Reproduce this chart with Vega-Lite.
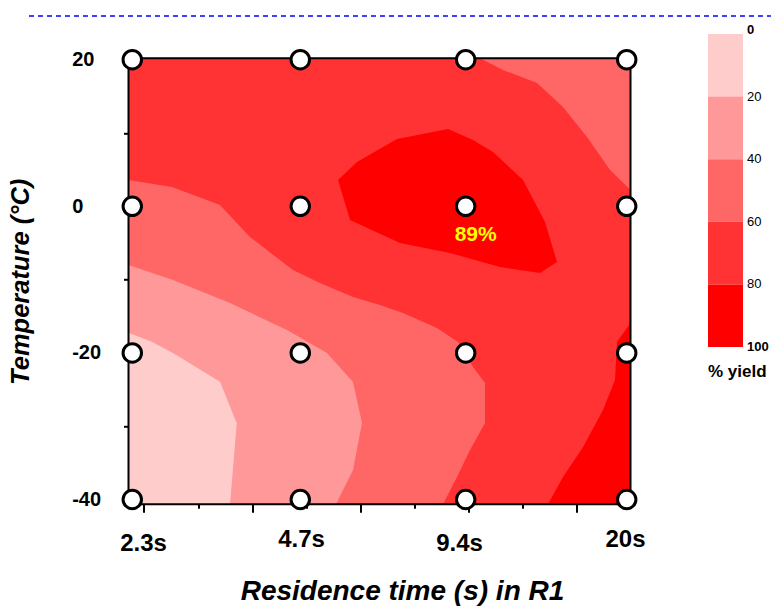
{
  "$schema": "https://vega.github.io/schema/vega-lite/v6.json",
  "width": 502,
  "height": 446,
  "autosize": {"type": "none"},
  "padding": {"left": 128.5, "top": 58.3, "right": 140.5, "bottom": 101.7},
  "background": "white",
  "config": {
    "view": {"fill": "#ff3333", "stroke": null},
    "font": "Liberation Sans"
  },
  "datasets": {
    "contours": [
      {"region": "C2a", "level": 50, "i": 1, "x": -0.287, "T": 3.59},
      {"region": "C2a", "level": 50, "i": 2, "x": 0.519, "T": 2.63},
      {"region": "C2a", "level": 50, "i": 3, "x": 1.407, "T": 0.18},
      {"region": "C2a", "level": 50, "i": 4, "x": 1.963, "T": -4.19},
      {"region": "C2a", "level": 50, "i": 5, "x": 2.759, "T": -8.69},
      {"region": "C2a", "level": 50, "i": 6, "x": 3.259, "T": -10.46},
      {"region": "C2a", "level": 50, "i": 7, "x": 3.870, "T": -12.37},
      {"region": "C2a", "level": 50, "i": 8, "x": 4.370, "T": -13.47},
      {"region": "C2a", "level": 50, "i": 9, "x": 4.796, "T": -14.56},
      {"region": "C2a", "level": 50, "i": 10, "x": 5.426, "T": -16.60},
      {"region": "C2a", "level": 50, "i": 11, "x": 5.815, "T": -18.51},
      {"region": "C2a", "level": 50, "i": 12, "x": 6.093, "T": -21.92},
      {"region": "C2a", "level": 50, "i": 13, "x": 6.315, "T": -24.11},
      {"region": "C2a", "level": 50, "i": 14, "x": 6.315, "T": -29.56},
      {"region": "C2a", "level": 50, "i": 15, "x": 6.037, "T": -33.25},
      {"region": "C2a", "level": 50, "i": 16, "x": 5.796, "T": -36.93},
      {"region": "C2a", "level": 50, "i": 17, "x": 5.537, "T": -40.65},
      {"region": "C2a", "level": 50, "i": 18, "x": -0.287, "T": -40.65},
      {"region": "C2b", "level": 50, "i": 1, "x": 6.222, "T": 20.19},
      {"region": "C2b", "level": 50, "i": 2, "x": 6.648, "T": 18.60},
      {"region": "C2b", "level": 50, "i": 3, "x": 7.278, "T": 16.82},
      {"region": "C2b", "level": 50, "i": 4, "x": 7.759, "T": 13.55},
      {"region": "C2b", "level": 50, "i": 5, "x": 8.204, "T": 9.45},
      {"region": "C2b", "level": 50, "i": 6, "x": 8.630, "T": 4.95},
      {"region": "C2b", "level": 50, "i": 7, "x": 9.009, "T": 2.22},
      {"region": "C2b", "level": 50, "i": 8, "x": 9.009, "T": 20.19},
      {"region": "C4a", "level": 90, "i": 1, "x": 3.593, "T": 3.59},
      {"region": "C4a", "level": 90, "i": 2, "x": 3.944, "T": 6.04},
      {"region": "C4a", "level": 90, "i": 3, "x": 4.685, "T": 9.18},
      {"region": "C4a", "level": 90, "i": 4, "x": 5.630, "T": 10.55},
      {"region": "C4a", "level": 90, "i": 5, "x": 6.093, "T": 9.05},
      {"region": "C4a", "level": 90, "i": 6, "x": 6.463, "T": 7.41},
      {"region": "C4a", "level": 90, "i": 7, "x": 7.019, "T": 3.59},
      {"region": "C4a", "level": 90, "i": 8, "x": 7.426, "T": -2.14},
      {"region": "C4a", "level": 90, "i": 9, "x": 7.648, "T": -7.60},
      {"region": "C4a", "level": 90, "i": 10, "x": 7.333, "T": -9.10},
      {"region": "C4a", "level": 90, "i": 11, "x": 6.593, "T": -8.28},
      {"region": "C4a", "level": 90, "i": 12, "x": 5.667, "T": -6.37},
      {"region": "C4a", "level": 90, "i": 13, "x": 4.741, "T": -5.01},
      {"region": "C4a", "level": 90, "i": 14, "x": 3.815, "T": -1.87},
      {"region": "C4b", "level": 90, "i": 1, "x": 9.009, "T": -15.92},
      {"region": "C4b", "level": 90, "i": 2, "x": 8.759, "T": -18.51},
      {"region": "C4b", "level": 90, "i": 3, "x": 8.722, "T": -23.70},
      {"region": "C4b", "level": 90, "i": 4, "x": 8.500, "T": -27.79},
      {"region": "C4b", "level": 90, "i": 5, "x": 8.130, "T": -32.84},
      {"region": "C4b", "level": 90, "i": 6, "x": 7.759, "T": -36.93},
      {"region": "C4b", "level": 90, "i": 7, "x": 7.481, "T": -40.65},
      {"region": "C4b", "level": 90, "i": 8, "x": 9.009, "T": -40.65},
      {"region": "C1", "level": 30, "i": 1, "x": -0.287, "T": -8.01},
      {"region": "C1", "level": 30, "i": 2, "x": 0.537, "T": -10.05},
      {"region": "C1", "level": 30, "i": 3, "x": 1.593, "T": -13.19},
      {"region": "C1", "level": 30, "i": 4, "x": 2.648, "T": -16.88},
      {"region": "C1", "level": 30, "i": 5, "x": 3.389, "T": -20.01},
      {"region": "C1", "level": 30, "i": 6, "x": 3.870, "T": -23.97},
      {"region": "C1", "level": 30, "i": 7, "x": 4.037, "T": -29.56},
      {"region": "C1", "level": 30, "i": 8, "x": 3.870, "T": -35.98},
      {"region": "C1", "level": 30, "i": 9, "x": 3.556, "T": -40.65},
      {"region": "C1", "level": 30, "i": 10, "x": -0.287, "T": -40.65},
      {"region": "C0", "level": 10, "i": 1, "x": -0.287, "T": -17.24},
      {"region": "C0", "level": 10, "i": 2, "x": 0.143, "T": -18.47},
      {"region": "C0", "level": 10, "i": 3, "x": 0.543, "T": -20.05},
      {"region": "C0", "level": 10, "i": 4, "x": 1.407, "T": -23.93},
      {"region": "C0", "level": 10, "i": 5, "x": 1.717, "T": -29.60},
      {"region": "C0", "level": 10, "i": 6, "x": 1.593, "T": -40.65},
      {"region": "C0", "level": 10, "i": 7, "x": -0.287, "T": -40.65}
    ],
    "points": [
      {"time": "2.3s", "x": -0.217, "T": 20},
      {"time": "4.7s", "x": 2.894, "T": 20},
      {"time": "9.4s", "x": 5.957, "T": 20},
      {"time": "20s", "x": 8.939, "T": 20},
      {"time": "2.3s", "x": -0.217, "T": 0},
      {"time": "4.7s", "x": 2.894, "T": 0},
      {"time": "9.4s", "x": 5.957, "T": 0},
      {"time": "20s", "x": 8.939, "T": 0},
      {"time": "2.3s", "x": -0.217, "T": -20},
      {"time": "4.7s", "x": 2.894, "T": -20},
      {"time": "9.4s", "x": 5.957, "T": -20},
      {"time": "20s", "x": 8.939, "T": -20},
      {"time": "2.3s", "x": -0.217, "T": -40},
      {"time": "4.7s", "x": 2.894, "T": -40},
      {"time": "9.4s", "x": 5.957, "T": -40},
      {"time": "20s", "x": 8.939, "T": -40}
    ],
    "labels": [
      {"x": 5.957, "T": 0, "text": "89%"}
    ],
    "topline": [
      {"x": -2.13, "x2": 11.61, "T": 25.96}
    ]
  },
  "encoding": {
    "x": {
      "field": "x",
      "type": "quantitative",
      "scale": {"domain": [-0.287, 9.009], "nice": false, "zero": false},
      "axis": {
        "values": [0, 1, 2, 3, 4, 5, 6, 7, 8, 9],
        "labelExpr": "datum.value == 0 ? '2.3s' : datum.value == 3 ? '4.7s' : datum.value == 6 ? '9.4s' : datum.value == 9 ? '20s' : ''",
        "domain": false,
        "grid": false,
        "ticks": true,
        "tickColor": "black",
        "tickWidth": 2,
        "tickSize": {"condition": {"test": "datum.value % 2 == 0", "value": 8}, "value": 4},
        "labelOffset": {"condition": [{"test": "datum.value == 3", "value": -5}, {"test": "datum.value == 6", "value": -9}, {"test": "datum.value == 9", "value": -5}], "value": -1},
        "labelFont": "Liberation Sans",
        "labelFontSize": 24,
        "labelFontWeight": "bold",
        "labelColor": "black",
        "labelPadding": 19,
        "labelFlush": false,
        "labelOverlap": false,
        "title": "Residence time (s) in R1",
        "titleFont": "Liberation Sans",
        "titleFontSize": 28,
        "titleFontWeight": "bold",
        "titleFontStyle": "italic",
        "titleColor": "black",
        "titleX": 273.5,
        "titlePadding": 22
      }
    },
    "y": {
      "field": "T",
      "type": "quantitative",
      "scale": {"domain": [-40.65, 20.19], "nice": false, "zero": false},
      "axis": {
        "values": [-40, -30, -20, -10, 0, 10, 20],
        "labelExpr": "datum.value % 20 == 0 ? '' + datum.value : ''",
        "domain": false,
        "grid": false,
        "tickColor": "black",
        "tickWidth": 2,
        "tickSize": 5,
        "labelAlign": "left",
        "labelBaseline": "middle",
        "labelPadding": 51.8,
        "labelFont": "Liberation Sans",
        "labelFontSize": 20,
        "labelFontWeight": "bold",
        "labelColor": "black",
        "labelOverlap": false,
        "title": "Temperature (°C)",
        "titleFont": "Liberation Sans",
        "titleFontSize": 25.5,
        "titleFontWeight": "bold",
        "titleFontStyle": "italic",
        "titleColor": "black",
        "titlePadding": 38
      }
    }
  },
  "layer": [
    {
      "data": {"name": "contours"},
      "encoding": {
        "detail": {"field": "region", "type": "nominal"},
        "order": {"field": "i", "type": "quantitative"},
        "color": {
          "field": "level",
          "type": "quantitative",
          "scale": {"type": "quantize", "domain": [0, 100], "nice": false, "range": ["#ffcccc", "#ff9999", "#ff6666", "#ff3333", "#ff0000"]},
          "legend": {
            "type": "gradient",
            "orient": "none",
            "legendX": 579.5,
            "legendY": 288.7,
            "direction": "vertical",
            "gradientLength": -313,
            "gradientThickness": 35,
            "gradientStrokeWidth": 0,
            "padding": 0,
            "values": [0, 20, 40, 60, 80, 100],
            "labelExpr": "'' + datum.value",
            "title": "% yield",
            "titleOrient": "bottom",
            "titleFont": "Liberation Sans",
            "titleFontSize": 17,
            "titleFontWeight": "bold",
            "titleColor": "black",
            "titlePadding": 10,
            "labelFont": "Liberation Sans",
            "labelFontSize": 13,
            "labelColor": "black",
            "labelOffset": 4,
            "labelOverlap": false,
            "encode": {
              "labels": {"update": {
                "fontWeight": {"signal": "datum.value === 0 || datum.value === 100 ? 'bold' : 'normal'"},
                "baseline": {"signal": "datum.value === 0 ? 'alphabetic' : 'middle'"}
              }}
            }
          }
        }
      },
      "layer": [
        {"transform": [{"filter": "datum.level >= 50"}], "mark": {"type": "line", "filled": true, "interpolate": "linear-closed", "strokeWidth": 0}},
        {"transform": [{"filter": "datum.level == 30"}], "mark": {"type": "line", "filled": true, "interpolate": "linear-closed", "strokeWidth": 0}},
        {"transform": [{"filter": "datum.level == 10"}], "mark": {"type": "line", "filled": true, "interpolate": "linear-closed", "strokeWidth": 0}}
      ]
    },
    {
      "data": {"values": [{}]},
      "mark": {"type": "rect", "fill": "transparent", "stroke": "black", "strokeWidth": 2},
      "encoding": {
        "x": {"value": 0},
        "x2": {"value": "width"},
        "y": {"value": 0},
        "y2": {"value": "height"}
      }
    },
    {
      "data": {"name": "points"},
      "mark": {"type": "point", "shape": "circle", "filled": true, "fill": "white", "stroke": "black", "strokeWidth": 3, "size": 340, "opacity": 1}
    },
    {
      "data": {"name": "labels"},
      "mark": {"type": "text", "color": "#ffff00", "font": "Liberation Sans", "fontSize": 21, "fontWeight": "bold", "dx": 10, "dy": 29},
      "encoding": {"text": {"field": "text", "type": "nominal"}}
    },
    {
      "data": {"name": "topline"},
      "mark": {"type": "rule", "color": "#0000ff", "strokeWidth": 1.5, "strokeDash": [5, 4]},
      "encoding": {"x2": {"field": "x2"}}
    }
  ]
}
